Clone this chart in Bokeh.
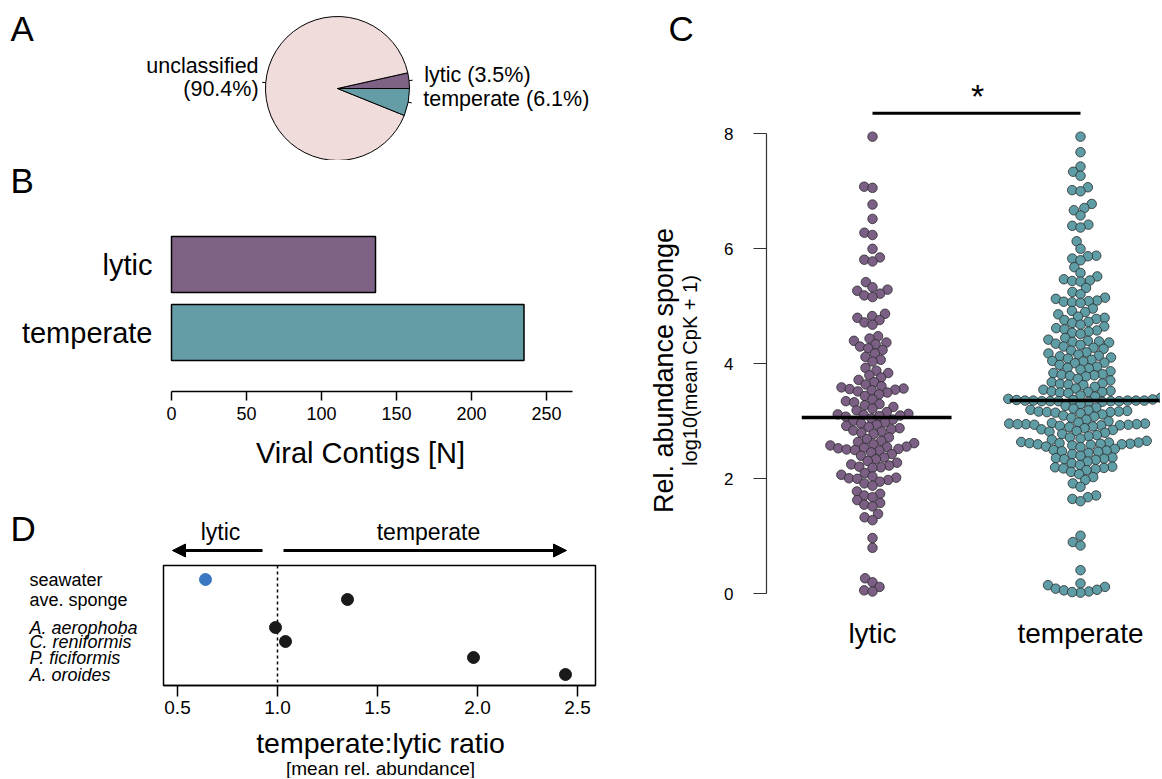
import numpy as np
from bokeh.plotting import figure
from bokeh.layouts import row, column
from bokeh.models import Range1d, FixedTicker, Arrow, NormalHead
from bokeh.embed import file_html
from bokeh.resources import INLINE
from bokeh.core.properties import value

FONT = "Liberation Sans"

# ---------------- data ----------------
PIE_NAMES = ["lytic", "unclassified", "temperate"]
PIE_PCT = [3.5, 90.4, 6.1]
PIE_COLORS = ["#7E6387", "#F0DCDA", "#649DA6"]

BAR_CATS = ["lytic", "temperate"]
BAR_COUNTS = [136, 235]
BAR_COLORS = ["#7E6387", "#649DA6"]
BAR_TICKS = [0, 50, 100, 150, 200, 250]

RATIO_SITES = ["seawater", "ave. sponge", "A. aerophoba", "C. reniformis",
               "P. ficiformis", "A. oroides"]
RATIO_VALUES = [0.64, 1.35, 0.99, 1.04, 1.98, 2.44]
RATIO_ITALIC = [False, False, True, True, True, True]
RATIO_COLORS = ["#3A78C2", "#1A1A1A", "#1A1A1A", "#1A1A1A", "#1A1A1A", "#1A1A1A"]
RATIO_TICKS = [0.5, 1.0, 1.5, 2.0, 2.5]

SWARM_CATS = ["lytic", "temperate"]
SWARM_COLORS = ["#7B5F85", "#5F9DA6"]
ABUND_TICKS = [0, 2, 4, 6, 8]

LYTIC_ABUND = [
    7.95,
    7.08, 7.06,
    6.77, 6.52, 6.28, 6.24, 6.00,
    5.85, 5.81, 5.78,
    5.42,
    5.33, 5.29, 5.27, 5.22, 5.19, 5.16,
    4.87, 4.83, 4.80, 4.76, 4.72, 4.68,
    4.48, 4.44, 4.40, 4.37, 4.34, 4.30, 4.27, 4.24,
    4.18, 4.12, 4.07, 4.04,
    3.93, 3.88, 3.84, 3.80, 3.76, 3.72, 3.68,
    3.64, 3.61, 3.59, 3.57, 3.56, 3.55, 3.54, 3.52, 3.50, 3.47, 3.44,
    3.38, 3.35, 3.33, 3.30, 3.28, 3.25, 3.22, 3.19, 3.16, 3.13, 3.12, 3.11,
    3.10, 3.09, 3.08,
    3.05, 3.03, 3.01, 2.98, 2.96, 2.94, 2.92, 2.90, 2.88, 2.86, 2.84, 2.82,
    2.80, 2.78,
    2.72, 2.69, 2.66, 2.64, 2.62, 2.60, 2.58, 2.56, 2.55, 2.54, 2.53, 2.52,
    2.51, 2.50, 2.49,
    2.46, 2.43, 2.40, 2.37, 2.34, 2.31, 2.28, 2.25, 2.23, 2.21, 2.20, 2.19,
    2.10, 2.07, 2.04, 2.02, 2.01, 2.00, 1.98, 1.95, 1.92, 1.88,
    1.78, 1.74, 1.71, 1.68, 1.63, 1.58, 1.55, 1.52,
    1.39, 1.33, 1.28,
    0.97, 0.80,
    0.27, 0.20, 0.12, 0.06, 0.04,
]

TEMPERATE_ABUND = [
    7.95, 7.68,
    7.43, 7.34, 7.27,
    7.07, 7.02, 7.00,
    6.78, 6.71, 6.67, 6.58,
    6.42, 6.40, 6.37,
    6.13, 6.00,
    5.88, 5.87, 5.83, 5.80,
    5.68, 5.58, 5.52, 5.47, 5.45, 5.44, 5.43,
    5.32, 5.25, 5.21, 5.15, 5.13, 5.10, 5.09, 5.08, 5.07, 5.06,
    4.96, 4.92, 4.90, 4.86, 4.82, 4.80, 4.78, 4.76, 4.73, 4.71,
    4.68, 4.65, 4.62, 4.60, 4.58, 4.56, 4.54, 4.52,
    4.45, 4.42, 4.40, 4.39, 4.38, 4.37, 4.35, 4.33, 4.30, 4.28, 4.26, 4.23,
    4.20, 4.18,
    4.16, 4.14, 4.13, 4.11, 4.09, 4.07, 4.05, 4.04, 4.02, 4.01,
    3.98, 3.95, 3.93, 3.92, 3.90, 3.87, 3.84, 3.82, 3.81, 3.80, 3.79, 3.78,
    3.74, 3.71, 3.68, 3.66, 3.65, 3.64, 3.63, 3.60, 3.57, 3.55, 3.53, 3.52,
    3.51, 3.51, 3.50, 3.49,
    3.45, 3.43, 3.41, 3.39, 3.38, 3.37, 3.37, 3.36, 3.36, 3.36, 3.36, 3.36,
    3.35, 3.35, 3.35, 3.35, 3.35, 3.34, 3.34, 3.30, 3.27, 3.24,
    3.22, 3.20, 3.19, 3.18, 3.17, 3.17, 3.16, 3.16, 3.15, 3.14, 3.12, 3.10,
    3.08, 3.06,
    3.03, 3.00, 2.98, 2.97, 2.96, 2.96, 2.95, 2.95, 2.95, 2.94, 2.94, 2.93,
    2.93, 2.92, 2.91, 2.90, 2.88, 2.86, 2.85, 2.83, 2.82, 2.80,
    2.78, 2.76, 2.74, 2.72, 2.70, 2.68, 2.66, 2.64, 2.63, 2.63, 2.62, 2.62,
    2.61, 2.61, 2.60, 2.60, 2.59, 2.58, 2.56, 2.55,
    2.52, 2.50, 2.49, 2.48, 2.47, 2.45, 2.43, 2.40, 2.37, 2.36, 2.35, 2.34,
    2.33, 2.30, 2.27, 2.24, 2.21, 2.20, 2.19, 2.18, 2.17, 2.15,
    2.12, 2.08, 2.03, 1.98, 1.92, 1.86,
    1.71, 1.68, 1.65, 1.61,
    1.01, 0.90, 0.84,
    0.41,
    0.18, 0.15, 0.12, 0.09, 0.06, 0.04, 0.02, 0.03, 0.07,
]


# ---------------- helpers ----------------
def lin(p0, p1, d0, d1):
    k = (d1 - d0) / (p1 - p0)
    return lambda p: d0 + (p - p0) * k


def base_fig(**kw):
    p = figure(output_backend="svg", toolbar_location=None, min_border=0, **kw)
    p.grid.visible = False
    p.outline_line_color = None
    p.background_fill_color = "white"
    p.border_fill_color = "white"
    return p


def txt(p, x, y, text, size, align="left", style="normal", angle=0.0):
    p.text(x=[x], y=[y], text=[text], text_font=value(FONT),
           text_font_size=value(f"{size}px"), text_align=align,
           text_baseline="middle", text_font_style=style, text_color="black",
           angle=angle)


def style_ticks(ax, size):
    ax.major_label_text_font = FONT
    ax.major_label_text_font_size = f"{size}px"
    ax.major_label_text_color = "black"
    ax.minor_tick_line_color = None
    ax.major_tick_in = 0


def swarm_offsets(vals, d, yscale):
    ys = np.asarray(vals, dtype=float) * yscale
    order = np.argsort(ys, kind="stable")
    xs = np.zeros(len(ys))
    px, py = [], []
    for i in order:
        y = ys[i]
        ax_ = np.array(px)
        ay_ = np.array(py)
        if len(ax_):
            m = np.abs(ay_ - y) < d
            nx, ny = ax_[m], ay_[m]
        else:
            nx = ny = np.array([])
        cands = [0.0]
        for a, b in zip(nx, ny):
            dd = np.sqrt(max(d * d - (b - y) ** 2, 0.0))
            cands += [a + dd, a - dd]
        cands = sorted(cands, key=lambda c: (round(abs(c), 6), c))
        for c in cands:
            if len(nx) == 0 or np.all((nx - c) ** 2 + (ny - y) ** 2 >= d * d - 1e-6):
                xs[i] = c
                break
        px.append(xs[i])
        py.append(y)
    return xs


LEFT_W = 650
TOTAL_W = 1160
TOTAL_H = 778
LETTER = 35

# =============== Panel A : pie ===============
A_H = 160
ax = lambda p: p
ay = lambda p: A_H - p
pA = base_fig(width=LEFT_W, height=A_H, x_range=Range1d(0, LEFT_W), y_range=Range1d(0, A_H),
              x_axis_location=None, y_axis_location=None)
PIE_CX, PIE_CY, PIE_R = ax(337), ay(88), 72
fr = np.array(PIE_PCT) / np.sum(PIE_PCT)
cum = np.concatenate([[0.0], np.cumsum(fr)]) * 2 * np.pi
starts, ends = cum[:-1], cum[1:]
pA.wedge(x=PIE_CX, y=PIE_CY, radius=PIE_R, start_angle=list(starts), end_angle=list(ends),
         fill_color=PIE_COLORS, line_color="black", line_width=1)
mids = (starts + ends) / 2
pA.segment(x0=list(PIE_CX + PIE_R * np.cos(mids)), y0=list(PIE_CY + PIE_R * np.sin(mids)),
           x1=list(PIE_CX + 1.05 * PIE_R * np.cos(mids)), y1=list(PIE_CY + 1.05 * PIE_R * np.sin(mids)),
           line_color="black", line_width=1)
for name, pct, m in zip(PIE_NAMES, PIE_PCT, mids):
    t = f"{name}\n({pct}%)" if len(name) > 10 else f"{name} ({pct}%)"
    lines = t.split("\n")
    right = np.cos(m) > 0
    tx = PIE_CX + 1.1 * PIE_R * np.cos(m) + (8 if right else 0)
    ty = PIE_CY + 1.1 * PIE_R * np.sin(m) + 5
    n = len(lines)
    for k, ln in enumerate(lines):
        txt(pA, tx, ty + (n - 1) / 2 * 23 - k * 23, ln, 21.5,
            align="left" if right else "right")
txt(pA, ax(10), ay(27.5), "A", LETTER)

# =============== Panel B : bars ===============
B_TOP = A_H
B_H = 483 - B_TOP
bx = lin(171, 546, 0, 250)
by = lin(264, 332, 1, 0)
pB = base_fig(width=LEFT_W, height=B_H, x_range=Range1d(bx(0), bx(LEFT_W)),
              y_range=Range1d(by(B_TOP + B_H), by(B_TOP)), y_axis_location=None)
ypos = [len(BAR_CATS) - 1 - i for i in range(len(BAR_CATS))]
pB.hbar(y=ypos, left=0, right=BAR_COUNTS, height=by(236) - by(292),
        fill_color=BAR_COLORS, line_color="black", line_width=1.5)
pB.text(x=[bx(152)] * len(BAR_CATS), y=ypos, text=BAR_CATS, text_font=value(FONT),
        text_font_size=value("29px"), text_align="right", text_baseline="middle",
        text_color="black")
xa = pB.xaxis[0]
xa.fixed_location = by(391)
xa.ticker = FixedTicker(ticks=BAR_TICKS)
xa.bounds = (0, bx(572))
style_ticks(xa, 18)
xa.major_tick_out = 9
xa.major_tick_line_width = 1.5
xa.axis_line_width = 1.5
xa.major_label_standoff = 6
txt(pB, bx(360), by(452), "Viral Contigs [N]", 29, align="center")
txt(pB, bx(10), by(180), "B", LETTER)

# =============== Panel D : ratio dots ===============
D_TOP = 483
D_H = TOTAL_H - D_TOP
DL, DR, DT, DB = 163, 595, 565, 685
dx = lin(177, 577, 0.5, 2.5)
dy = lambda p: p - DT
ROW_PX = [579, 599, 627, 641, 657, 674]
pD = base_fig(width=LEFT_W, height=D_H, x_range=Range1d(dx(0), dx(LEFT_W)),
              y_range=Range1d(dy(TOTAL_H), dy(D_TOP)), y_axis_location=None)
pD.quad(left=dx(DL), right=dx(DR), top=dy(DT), bottom=dy(DB), fill_color=None,
        line_color="black", line_width=1.5)
pD.segment(x0=1.0, x1=1.0, y0=dy(DT), y1=dy(DB), line_color="black",
           line_width=1.5, line_dash="3 3")
pD.scatter(x=RATIO_VALUES, y=[dy(r) for r in ROW_PX], size=12,
           fill_color=RATIO_COLORS, line_color=RATIO_COLORS)
pD.text(x=[dx(29)] * len(RATIO_SITES), y=[dy(r) for r in ROW_PX], text=RATIO_SITES,
        text_font=value(FONT), text_font_size=value("18px"), text_align="left",
        text_baseline="middle", text_color="black",
        text_font_style=["italic" if it else "normal" for it in RATIO_ITALIC])
xd = pD.xaxis[0]
xd.fixed_location = dy(DB)
xd.ticker = FixedTicker(ticks=RATIO_TICKS)
xd.major_label_overrides = {t: f"{t:.1f}" for t in RATIO_TICKS}
xd.bounds = (dx(DL), dx(DR))
style_ticks(xd, 19)
xd.major_tick_out = 11
xd.major_tick_line_width = 1.5
xd.axis_line_width = 1.5
xd.major_label_standoff = 4
pD.add_layout(Arrow(end=NormalHead(size=13, fill_color="black", line_color="black"),
                    x_start=dx(262), y_start=dy(550), x_end=dx(172), y_end=dy(550),
                    line_width=3, line_color="black"))
pD.add_layout(Arrow(end=NormalHead(size=13, fill_color="black", line_color="black"),
                    x_start=dx(283), y_start=dy(550), x_end=dx(566), y_end=dy(550),
                    line_width=3, line_color="black"))
txt(pD, dx(220), dy(531), "lytic", 23, align="center")
txt(pD, dx(428), dy(531), "temperate", 23, align="center")
txt(pD, dx(380), dy(742), "temperate:lytic ratio", 28.5, align="center")
txt(pD, dx(380), dy(767.5), "[mean rel. abundance]", 19, align="center")
txt(pD, dx(10), dy(527.5), "D", LETTER)

# =============== Panel C : beeswarm ===============
C_W = TOTAL_W - LEFT_W
cx = lin(872, 1080, 1, 2)
cy = lin(593.3, 133.3, 0, 8)
PX_X = 208.0
PX_Y = 57.5
pC = base_fig(width=C_W, height=TOTAL_H, x_range=Range1d(cx(LEFT_W), cx(TOTAL_W)),
              y_range=Range1d(cy(TOTAL_H), cy(0)))
for k, (vals, col) in enumerate(zip([LYTIC_ABUND, TEMPERATE_ABUND], SWARM_COLORS)):
    off = swarm_offsets(vals, 8.4, PX_Y)
    pC.scatter(x=list(k + 1 + off / PX_X), y=vals, size=9.5, fill_color=col,
               line_color="#2A2A2A", line_width=0.8)
for k, vals in enumerate([LYTIC_ABUND, TEMPERATE_ABUND]):
    med = float(np.median(vals))
    pC.segment(x0=k + 1 - 0.34, x1=k + 1 + 0.38, y0=med, y1=med,
               line_color="black", line_width=3.5)
SIG_Y = cy(112.7)
pC.segment(x0=1, x1=2, y0=SIG_Y, y1=SIG_Y, line_color="black", line_width=3)
txt(pC, cx(977), cy(95), "*", 34, align="center")
yc = pC.yaxis[0]
yc.fixed_location = cx(766)
yc.ticker = FixedTicker(ticks=ABUND_TICKS)
yc.bounds = (ABUND_TICKS[0], ABUND_TICKS[-1])
style_ticks(yc, 17)
yc.major_tick_out = 13
yc.major_label_standoff = 20
yc.axis_line_color = "#333333"
yc.major_tick_line_color = "#333333"
yc.axis_line_width = 1.2
yc.major_tick_line_width = 1.2
xc = pC.xaxis[0]
xc.fixed_location = cy(605)
xc.ticker = FixedTicker(ticks=[1, 2])
xc.major_label_overrides = {1.0: SWARM_CATS[0], 2.0: SWARM_CATS[1]}
style_ticks(xc, 28)
xc.axis_line_color = None
xc.major_tick_line_color = None
xc.major_tick_out = 0
xc.major_label_standoff = 12
txt(pC, cx(663), cy(370), "Rel. abundance sponge", 27, align="center", angle=np.pi / 2)
txt(pC, cx(689), cy(370), "log10(mean CpK + 1)", 20, align="center", angle=np.pi / 2)
txt(pC, cx(668), cy(27.5), "C", LETTER)

layout = row(column(pA, pB, pD), pC)
open("out.html", "w").write(file_html(layout, INLINE))
